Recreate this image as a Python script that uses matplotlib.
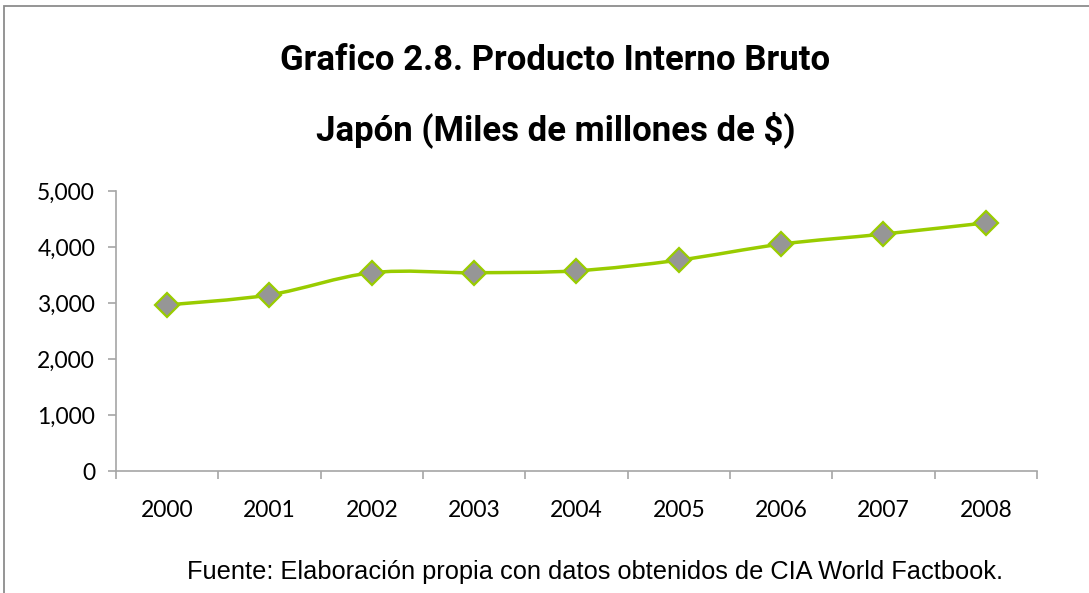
import numpy as np
import matplotlib.pyplot as plt
from matplotlib.path import Path
from matplotlib.patches import PathPatch, Rectangle
from matplotlib.ticker import FuncFormatter

# Datos del grafico
years = ['2000', '2001', '2002', '2003', '2004', '2005', '2006', '2007', '2008']
pib = [2965, 3145, 3540, 3540, 3575, 3765, 4050, 4230, 4430]

title_lines = ['Grafico 2.8. Producto Interno Bruto', 'Japón (Miles de millones de $)']
fuente = 'Fuente: Elaboración propia con datos obtenidos de CIA World Factbook.'

line_color = '#99CC00'
marker_fill = '#969696'
axis_color = '#a6a6a6'

fig = plt.figure(figsize=(10.89, 5.93), dpi=100)
ax = fig.add_axes([0.1065, 0.2057, 0.8457, 0.4723])

x = np.arange(len(years))
y = np.array(pib, dtype=float)

# Linea suavizada (curvas Bezier tipo Excel) pasando por los puntos
verts = [(x[0], y[0])]
codes = [Path.MOVETO]
t = 1 / 6
for i in range(len(x) - 1):
    p0 = (x[max(i - 1, 0)], y[max(i - 1, 0)])
    p1 = (x[i], y[i])
    p2 = (x[i + 1], y[i + 1])
    p3 = (x[min(i + 2, len(x) - 1)], y[min(i + 2, len(x) - 1)])
    c1 = (p1[0] + (p2[0] - p0[0]) * t, p1[1] + (p2[1] - p0[1]) * t)
    c2 = (p2[0] - (p3[0] - p1[0]) * t, p2[1] - (p3[1] - p1[1]) * t)
    verts += [c1, c2, p2]
    codes += [Path.CURVE4] * 3
ax.add_patch(PathPatch(Path(verts, codes), facecolor='none', edgecolor=line_color,
                       linewidth=2.5, capstyle='round', joinstyle='round', zorder=2))

ax.plot(x, y, linestyle='none', marker='D', markersize=12, markerfacecolor=marker_fill,
        markeredgecolor=line_color, markeredgewidth=1.6, zorder=3)

# Ejes
ax.set_xlim(-0.5, len(years) - 0.5)
ax.set_ylim(0, 5000)
ax.set_yticks(np.arange(0, 5001, 1000))
ax.yaxis.set_major_formatter(FuncFormatter(lambda v, p: f'{int(v):,}'))
ax.set_xticks(np.arange(-0.5, len(years), 1.0))
ax.set_xticklabels([])
ax.set_xticks(x, minor=True)
ax.set_xticklabels(years, minor=True)
ax.tick_params(axis='x', which='minor', length=0, pad=21)
ax.tick_params(axis='x', which='major', length=6, direction='out', color=axis_color, width=1.2)
ax.tick_params(axis='y', length=6, direction='out', color=axis_color, width=1.2, pad=9)
for lab in ax.get_xticklabels(minor=True) + ax.get_yticklabels():
    lab.set_fontfamily('Lato')
    lab.set_fontsize(16.5)
    lab.set_color('#000000')

for s in ['top', 'right']:
    ax.spines[s].set_visible(False)
for s in ['left', 'bottom']:
    ax.spines[s].set_color(axis_color)
    ax.spines[s].set_linewidth(1.2)

# Marco del grafico
fig.patches.append(Rectangle((4 / 1089, -0.1), 1.2, 1 - 6 / 593 + 0.1, transform=fig.transFigure,
                             fill=False, edgecolor='#8c8c8c', linewidth=1.3))

# Titulo
fig.text(0.51, 1 - 60 / 593, title_lines[0], ha='center', va='center', fontsize=25,
         fontweight='bold', family=['Roboto', 'DejaVu Sans'])
fig.text(0.51, 1 - 130 / 593, title_lines[1], ha='center', va='center', fontsize=25,
         fontweight='bold', family=['Roboto', 'DejaVu Sans'])

# Fuente
fig.text(0.546, 1 - 572 / 593, fuente, ha='center', va='center', fontsize=18.3,
         family=['Liberation Sans', 'DejaVu Sans'])

fig.savefig('out.png', dpi=100)
